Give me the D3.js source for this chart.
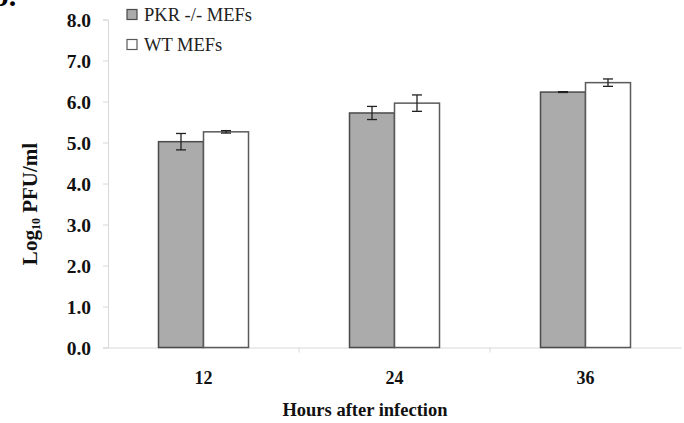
<!DOCTYPE html>
<html><head><meta charset="utf-8">
<script src="https://cdn.jsdelivr.net/npm/d3@7"></script>
<style>body{margin:0;background:#fff}svg{display:block}text{font-family:"Liberation Serif","Times New Roman",serif}</style>
</head><body>
<svg id="c" width="684" height="423"></svg>
<script>
const categories = ["12", "24", "36"];
const seriesNames = ["PKR -/- MEFs", "WT MEFs"];
const pkrValues = [5.02, 5.72, 6.23];
const pkrErrors = [0.2, 0.16, 0.01];
const wtValues = [5.26, 5.96, 6.46];
const wtErrors = [0.03, 0.2, 0.09];
const yTicks = [0, 1, 2, 3, 4, 5, 6, 7, 8];

const svg = d3.select("#c");
const m = {left: 108, right: 681, top: 19.5, bottom: 347.5};
const y = d3.scaleLinear().domain([0, 8]).range([m.bottom, m.top]);
const x0 = d3.scaleBand().domain(categories).range([m.left, m.right]).paddingInner(0).paddingOuter(0);
const x1 = d3.scaleBand().domain(seriesNames).range([0, 90]);
const fills = ["#ababab", "#ffffff"];
const strokes = ["#4a4a4a", "#5a5a5a"];

// panel letter (cut off in the reference)
svg.append("text").attr("x", -8).attr("y", 6).attr("font-size", 30).attr("font-weight", "bold").text("b.");

// y axis
const yAxis = svg.append("g").attr("transform", `translate(${m.left},0)`)
  .call(d3.axisLeft(y).tickValues(yTicks).tickFormat(d3.format(".1f")).tickSize(5).tickPadding(12));
yAxis.select(".domain").attr("stroke", "#d8d8d8");
yAxis.selectAll(".tick line").attr("stroke", "#d8d8d8");
yAxis.selectAll(".tick text").attr("font-size", 19.5).attr("font-weight", "bold").attr("fill", "#111")
  .attr("font-family", "Liberation Serif, serif").attr("dy", "0.35em");

// x axis
const xAxis = svg.append("g").attr("transform", `translate(0,${m.bottom})`)
  .call(d3.axisBottom(x0).tickSize(0).tickPadding(24));
xAxis.select(".domain").attr("stroke", "#d8d8d8");
xAxis.selectAll(".tick text").attr("font-size", 18).attr("font-weight", "bold").attr("fill", "#111")
  .attr("font-family", "Liberation Serif, serif");
xAxis.selectAll(".btick").data(categories.slice(1)).join("line")
  .attr("x1", d => x0(d)).attr("x2", d => x0(d)).attr("y1", 0).attr("y2", 5).attr("stroke", "#d8d8d8");

// bars
const data = categories.map((c, i) => ({c, vals: [
  {s: seriesNames[0], v: pkrValues[i], e: pkrErrors[i], k: 0},
  {s: seriesNames[1], v: wtValues[i], e: wtErrors[i], k: 1}]}));
const bw = 45;
const g = svg.selectAll(".grp").data(data).join("g")
  .attr("transform", d => `translate(${x0(d.c) + x0.bandwidth()/2 - 45},0)`);
g.selectAll("rect").data(d => d.vals).join("rect")
  .attr("x", d => x1(d.s)).attr("width", bw)
  .attr("y", d => y(d.v)).attr("height", d => y(0) - y(d.v))
  .attr("fill", d => fills[d.k]).attr("stroke", d => strokes[d.k]).attr("stroke-width", 1.5);
const eb = g.selectAll(".eb").data(d => d.vals).join("g").attr("stroke", "#222").attr("stroke-width", 1.3);
eb.append("line").attr("x1", d => x1(d.s) + bw/2).attr("x2", d => x1(d.s) + bw/2)
  .attr("y1", d => y(d.v + d.e)).attr("y2", d => y(d.v - d.e));
eb.append("line").attr("x1", d => x1(d.s) + bw/2 - 5).attr("x2", d => x1(d.s) + bw/2 + 5)
  .attr("y1", d => y(d.v + d.e)).attr("y2", d => y(d.v + d.e));
eb.append("line").attr("x1", d => x1(d.s) + bw/2 - 5).attr("x2", d => x1(d.s) + bw/2 + 5)
  .attr("y1", d => y(d.v - d.e)).attr("y2", d => y(d.v - d.e));

// legend
const lg = svg.selectAll(".lg").data(seriesNames).join("g")
  .attr("transform", (d, i) => `translate(127,${9.5 + i * 30})`);
lg.append("rect").attr("width", 10).attr("height", 10)
  .attr("fill", (d, i) => fills[i]).attr("stroke", (d, i) => strokes[i]).attr("stroke-width", 1.2);
lg.append("text").attr("x", 17).attr("y", 11).attr("font-size", 18.5).attr("fill", "#222").text(d => d);

// axis titles
const yl = svg.append("text").attr("transform", "translate(37,204) rotate(-90)")
  .attr("text-anchor", "middle").attr("font-size", 21).attr("font-weight", "bold").attr("fill", "#111");
yl.append("tspan").text("Log");
yl.append("tspan").attr("font-size", 12).attr("dy", 3).text("10");
yl.append("tspan").attr("dy", -3).text(" PFU/ml");
svg.append("text").attr("x", 365).attr("y", 416).attr("text-anchor", "middle")
  .attr("font-size", 18.5).attr("font-weight", "bold").attr("fill", "#111").text("Hours after infection");
</script>
</body></html>
